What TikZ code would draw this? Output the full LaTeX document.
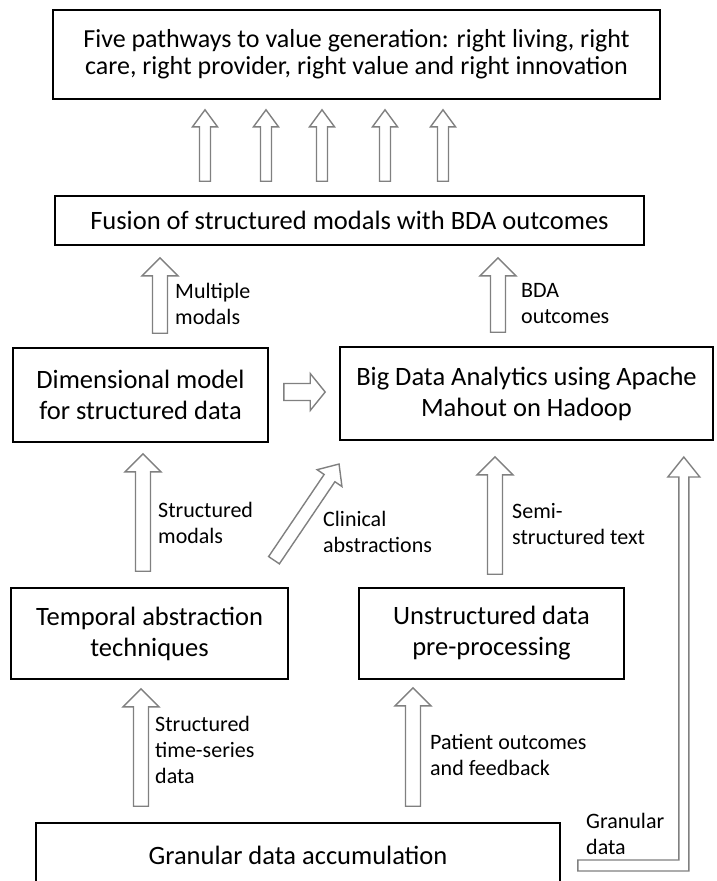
\documentclass[tikz,border=0pt]{standalone}
\usepackage{fontspec}
\setmainfont{Carlito}
\usetikzlibrary{calc}

\definecolor{arrowgray}{RGB}{128,128,128}

\tikzset{
  box/.style={rectangle, draw, line width=1.6pt, inner sep=0pt, align=center,
    font=\fontsize{26.5}{31}\selectfont},
  lbl/.style={anchor=west, inner sep=0pt, align=left, font=\fontsize{22}{26}\selectfont},
  bshaft/.store in=\bshaft, bhead/.store in=\bhead, blen/.store in=\blen,
  barrow/.style={draw=arrowgray, fill=white, line width=1.4pt, bshaft=7.5pt, bhead=18pt, blen=18pt},
  thin barrow/.style={bshaft=5.5pt, bhead=12.5pt, blen=17pt}
}

\newcommand{\barrow}[3][]{%
  \path[barrow,#1] let \p1=(#2), \p2=(#3),
      \n1={atan2(\y2-\y1,\x2-\x1)}, \n2={veclen(\x2-\x1,\y2-\y1)} in
    [shift={(\p1)}, rotate=\n1]
    (0pt,-\bshaft) -- ({\n2-\blen},-\bshaft) -- ({\n2-\blen},-\bhead) -- ({\n2+0pt},0pt)
    -- ({\n2-\blen},\bhead) -- ({\n2-\blen},\bshaft) -- (0pt,\bshaft) -- cycle;}

\begin{document}
\begin{tikzpicture}[x=1pt, y=-1pt]
\useasboundingbox (0,0) rectangle (716,881);

\node[box, minimum width=607, minimum height=89, font=\fontsize{26}{27}\selectfont] (top) at (356.5,54.5)
  {Five pathways to value generation: right living, right\\care, right provider, right value and right innovation};
\node[box, minimum width=589, minimum height=49] (fusion) at (349.5,220.5) {Fusion of structured modals with BDA outcomes};
\node[box, minimum width=255, minimum height=94] (dim) at (140.5,395) {Dimensional model\\for structured data};
\node[box, minimum width=373, minimum height=93] (bda) at (526.5,393.5) {Big Data Analytics using Apache\\Mahout on Hadoop};
\node[box, minimum width=277, minimum height=91] (temporal) at (149.5,633.5) {Temporal abstraction\\techniques};
\node[box, minimum width=265, minimum height=91] (unstr) at (491.5,633.5) {Unstructured data\\pre-processing};
\node[box, minimum width=524, minimum height=64] (gran) at (298,855) {Granular data accumulation};

\foreach \ax in {205,266,322,385,443}
  \barrow[thin barrow]{[shift={(\ax-349.5,-14)}]fusion.north}{[shift={(\ax-356.5,10)}]top.south};

\barrow{[shift={(19.5,-14)}]dim.north}{[shift={(-189.5,12)}]fusion.south}
\barrow{[shift={(-28.5,-14)}]bda.north}{[shift={(148.5,12)}]fusion.south}
\barrow[bshaft=8.5pt, bhead=18.5pt, blen=15pt]{[shift={(15,-3)}]dim.east}{[shift={(-14,-1.5)}]bda.west}
\barrow{[shift={(-6.5,-16)}]temporal.north}{[shift={(2.5,11)}]dim.south}
\barrow[bshaft=6.5pt, bhead=15pt, blen=17pt]{[shift={(124.5,-27)}]temporal.north}{[shift={(0,23)}]bda.south west}
\barrow{[shift={(3.5,-13)}]unstr.north}{[shift={(-31.5,16)}]bda.south}
\barrow{[shift={(-157,-16)}]gran.north}{[shift={(-8.5,9)}]temporal.south}
\barrow{[shift={(115,-16)}]gran.north}{[shift={(-78.5,8)}]unstr.south}

\draw[barrow] ([shift={(17,5)}]gran.east) -- ++(101,0) -- ++(0,-383) -- ++(-11,0) -- ++(16,-20)
  -- ++(16,20) -- ++(-11,0) -- ++(0,394) -- ++(-111,0) -- cycle;

\node[lbl] (lmm) at (175,303.5) {Multiple\\modals};
\node[lbl] (lbda) at (521,303.5) {BDA\\outcomes};
\node[lbl] (lsm) at (158,523) {Structured\\modals};
\node[lbl] (lclin) at (323,531.5) {Clinical\\abstractions};
\node[lbl] (lsemi) at (512,524) {Semi-\\structured text};
\node[lbl] (lsts) at (155,750) {Structured\\time-series\\data};
\node[lbl] (lpat) at (430,755) {Patient outcomes\\and feedback};
\node[lbl] (lgran) at (586,833.5) {Granular\\data};
\end{tikzpicture}
\end{document}
